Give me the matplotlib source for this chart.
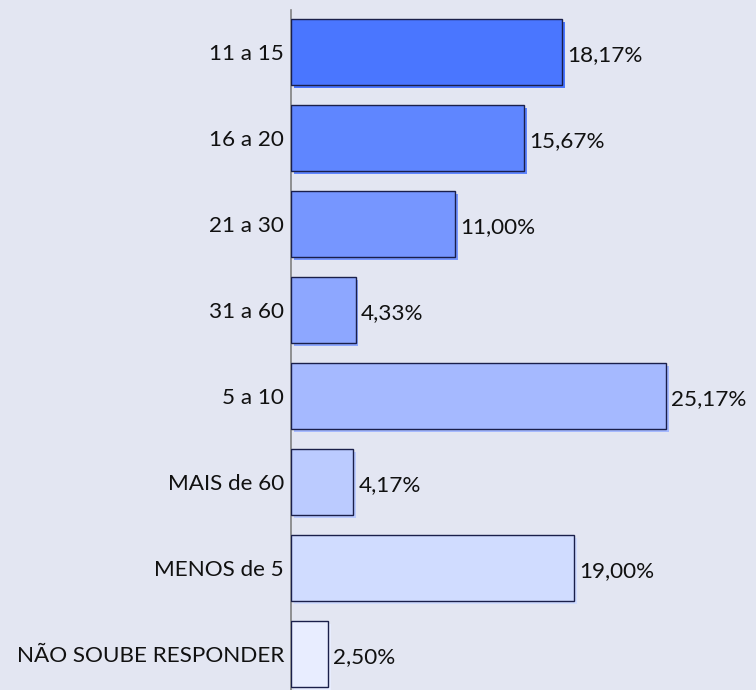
import matplotlib
matplotlib.use("Agg")
import matplotlib.pyplot as plt
import matplotlib.patheffects as pe

# Data
categories = ["11 a 15", "16 a 20", "21 a 30", "31 a 60", "5 a 10",
              "MAIS de 60", "MENOS de 5", "NÃO SOUBE RESPONDER"]
values = [18.17, 15.67, 11.00, 4.33, 25.17, 4.17, 19.00, 2.50]
labels = ["18,17%", "15,67%", "11,00%", "4,33%", "25,17%", "4,17%", "19,00%", "2,50%"]
colors = ["#4A76FF", "#5F86FF", "#7696FF", "#8DA7FF", "#A5B9FF",
          "#BBCBFF", "#D0DCFF", "#E8EDFF"]

bg = "#E3E6F2"
plt.rcParams["font.family"] = ["Lato", "DejaVu Sans"]

fig = plt.figure(figsize=(7.56, 6.9), dpi=100, facecolor=bg)
ax = fig.add_axes([291 / 756, 0, (756 - 291) / 756, 1], facecolor=bg)

pos = list(range(len(categories)))
bars = ax.barh(pos, values, height=0.77, color=colors, edgecolor="#1A1F4A",
               linewidth=1.0, zorder=3)
for b, c in zip(bars, colors):
    b.set_path_effects([pe.SimplePatchShadow(offset=(2, -2), shadow_rgbFace=c, alpha=1.0),
                        pe.Normal()])

for p, v, t in zip(pos, values, labels):
    ax.text(v + 0.35, p + 0.04, t, va="center", ha="left", fontsize=16.2, color="#111111")

ax.set_xlim(0, 465 / 14.9)
ax.set_ylim(7.42, -0.605)
ax.set_yticks(pos)
ax.set_yticklabels(categories, fontsize=16.2, color="#111111")
ax.tick_params(axis="y", length=0, pad=5)
ax.set_xticks([])
for s in ["top", "right", "bottom"]:
    ax.spines[s].set_visible(False)
ax.spines["left"].set_color("#808080")
ax.spines["left"].set_linewidth(1.2)
ax.spines["left"].set_bounds(-0.488, 7.42)

fig.savefig("out.png", dpi=100, facecolor=bg)
